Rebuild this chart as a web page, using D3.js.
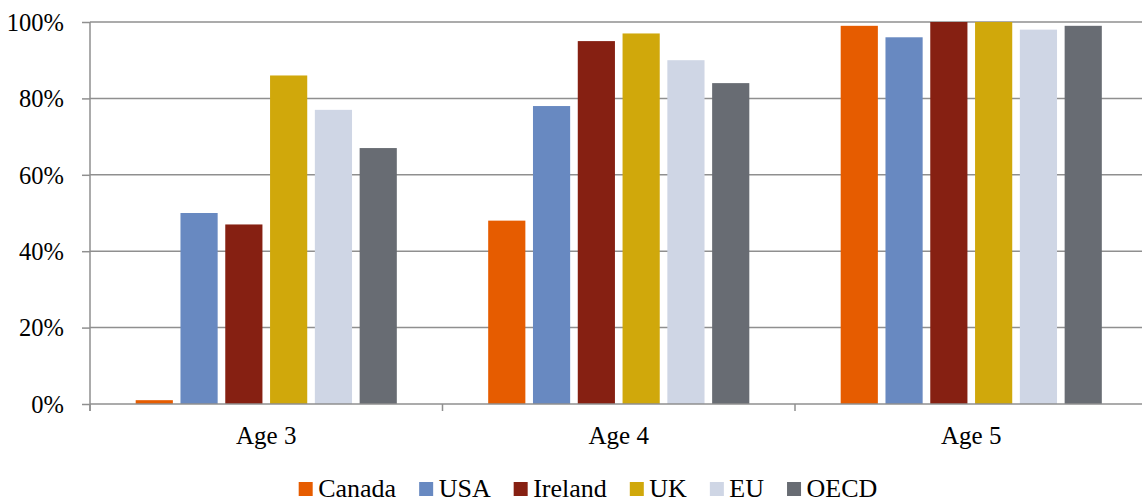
<!DOCTYPE html>
<html>
<head>
<meta charset="utf-8">
<script src="https://cdn.jsdelivr.net/npm/d3@7"></script>
<style>
  html, body { margin: 0; padding: 0; background: #fff; }
  svg { display: block; }
</style>
</head>
<body>
<svg id="chart" width="1142" height="502"></svg>
<script>
// Enrolment share by age group
const ageGroups = ["Age 3", "Age 4", "Age 5"];
const seriesNames = ["Canada", "USA", "Ireland", "UK", "EU", "OECD"];
const seriesColors = ["#E65C00", "#6889C1", "#862012", "#D0A80B", "#CFD6E5", "#686C73"];
const canada  = [0.01, 0.48, 0.99];
const usa     = [0.50, 0.78, 0.96];
const ireland = [0.47, 0.95, 1.00];
const uk      = [0.86, 0.97, 1.00];
const eu      = [0.77, 0.90, 0.98];
const oecd    = [0.67, 0.84, 0.99];
const yTicks  = [0, 0.2, 0.4, 0.6, 0.8, 1.0];

const seriesValues = [canada, usa, ireland, uk, eu, oecd];
const serifFont = '"Liberation Serif", "Times New Roman", serif';

const svg = d3.select("#chart");
const plotLeft = 90, plotRight = 1147.5, plotTop = 22, plotBottom = 404;
const gridColor = "#8f8f8f";

const x0 = d3.scaleBand().domain(ageGroups).range([plotLeft, plotRight]).padding(0);
const x1 = d3.scaleBand().domain(seriesNames).range([0, x0.bandwidth()])
  .paddingInner(0.17).paddingOuter(1.02);
const y = d3.scaleLinear().domain([0, 1]).range([plotBottom, plotTop]);

// horizontal gridlines
svg.append("g")
  .selectAll("line")
  .data(yTicks.filter(d => d > 0))
  .join("line")
  .attr("x1", plotLeft).attr("x2", 1142)
  .attr("y1", d => y(d)).attr("y2", d => y(d))
  .attr("stroke", gridColor).attr("stroke-width", 1.5);

// bars
const groups = svg.append("g")
  .selectAll("g")
  .data(ageGroups)
  .join("g")
  .attr("transform", d => `translate(${x0(d)},0)`);

groups.selectAll("rect")
  .data((g, gi) => seriesNames.map((s, si) => ({ s, si, v: seriesValues[si][gi] })))
  .join("rect")
  .attr("x", d => x1(d.s))
  .attr("width", x1.bandwidth())
  .attr("y", d => y(d.v))
  .attr("height", d => y(0) - y(d.v))
  .attr("fill", d => seriesColors[d.si]);

// y axis
const yAxis = d3.axisLeft(y)
  .tickValues(yTicks)
  .tickFormat(d3.format(".0%"))
  .tickSize(8)
  .tickPadding(18);
const gy = svg.append("g").attr("transform", `translate(${plotLeft},0)`).call(yAxis);
gy.select(".domain").attr("d", `M0,${plotTop}V${plotBottom + 7}`).attr("stroke", gridColor).attr("stroke-width", 1.5);
gy.selectAll(".tick line").attr("stroke", gridColor).attr("stroke-width", 1.5);
gy.selectAll(".tick text")
  .style("font-family", serifFont)
  .style("font-size", "24.5px")
  .attr("fill", "#000")
  .attr("dy", "0.34em");

// x axis
const xAxis = d3.axisBottom(x0).tickSize(0).tickPadding(0);
const gx = svg.append("g").attr("transform", `translate(0,${plotBottom})`).call(xAxis);
gx.select(".domain").remove();
gx.selectAll(".tick text")
  .style("font-family", serifFont)
  .style("font-size", "25px")
  .attr("fill", "#000")
  .attr("y", 40).attr("dy", 0);
svg.append("line")
  .attr("x1", plotLeft).attr("x2", 1142).attr("y1", plotBottom).attr("y2", plotBottom)
  .attr("stroke", gridColor).attr("stroke-width", 1.5);
// category boundary ticks
svg.append("g")
  .selectAll("line")
  .data(ageGroups.map(g => x0(g)).concat([plotRight]))
  .join("line")
  .attr("x1", d => d).attr("x2", d => d)
  .attr("y1", plotBottom).attr("y2", plotBottom + 7)
  .attr("stroke", gridColor).attr("stroke-width", 1.5);

// legend
const legend = svg.append("g");
const items = legend.selectAll("g")
  .data(seriesNames)
  .join("g");
items.append("rect")
  .attr("width", 14).attr("height", 14)
  .attr("y", 482)
  .attr("fill", (d, i) => seriesColors[i]);
items.append("text")
  .attr("x", 19.5).attr("y", 497)
  .style("font-family", serifFont)
  .style("font-size", "26px")
  .attr("fill", "#000")
  .text(d => d);
let cursor = 0;
const offsets = [];
items.each(function () {
  offsets.push(cursor);
  const w = d3.select(this).select("text").node().getComputedTextLength();
  cursor += 19.5 + w + 23;
});
const totalW = cursor - 23;
const startX = 588 - totalW / 2;
items.attr("transform", (d, i) => `translate(${startX + offsets[i]},0)`);
</script>
</body>
</html>
